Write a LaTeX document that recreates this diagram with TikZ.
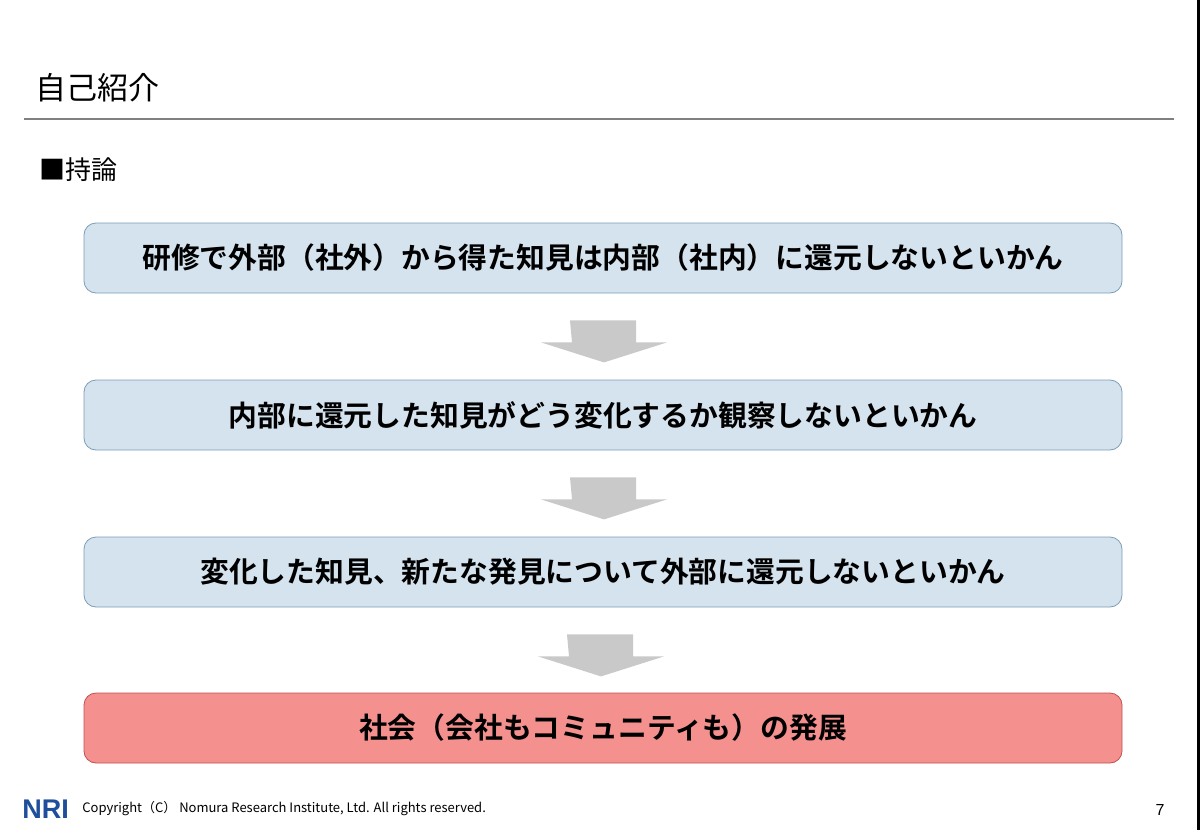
\documentclass[tikz,border=0pt]{standalone}
\usepackage{fontspec}
\setmainfont{Liberation Sans}
\newfontfamily\jp{Noto Sans CJK JP}
\newfontfamily\jpb{Noto Sans CJK JP Bold}
\usetikzlibrary{positioning,calc}
\definecolor{boxblue}{HTML}{D4E3EE}
\definecolor{lineblue}{HTML}{7C9DB8}
\definecolor{boxred}{HTML}{F4918F}
\definecolor{linered}{HTML}{C0504D}
\definecolor{arrowgray}{HTML}{C9C9C9}
\definecolor{nriblue}{HTML}{1F4E9C}
\tikzset{
  stepbox/.style={draw=lineblue, fill=boxblue, rounded corners=6pt, minimum width=519pt, minimum height=35pt, font=\jpb\fontsize{14.4}{16}\selectfont, inner sep=0pt},
  goalbox/.style={stepbox, draw=linered, fill=boxred},
}
\newcommand{\grayarrow}[1]{\fill[arrowgray] ([xshift=-16.5pt,yshift=-13.5pt]#1) -- ++(33pt,0) -- ++(0,-11pt) -- ++(15.5pt,0) -- ++(-31.5pt,-10pt) -- ++(-31.5pt,10pt) -- ++(15.5pt,0) -- cycle;}
\begin{document}
\begin{tikzpicture}[x=0.5pt,y=-0.5pt]
\useasboundingbox (0,0) rectangle (1200,830);
\draw[line width=1.5pt] (1198,0) -- (1198,830);
\node[anchor=west, font=\jp\fontsize{15.5}{17}\selectfont] (title) at (28,88) {自己紹介};
\draw[gray, line width=0.6pt] (24,119) -- (1174,119);
\node[anchor=west, font=\jp\fontsize{13}{15}\selectfont] (thesis) at (32,170) {■持論};
% steps
\node[stepbox] (s1) at (603,258) {研修で外部（社外）から得た知見は内部（社内）に還元しないといかん};
\node[stepbox] (s2) at (603,415) {内部に還元した知見がどう変化するか観察しないといかん};
\node[stepbox] (s3) at (603,572) {変化した知見、新たな発見について外部に還元しないといかん};
\node[goalbox] (s4) at (603,728) {社会（会社もコミュニティも）の発展};
\grayarrow{s1.south} \grayarrow{s2.south} \grayarrow{$(s3.south)+(-3,0)$}
% footer
\node[anchor=west, text=nriblue, font=\bfseries\fontsize{13.5}{13.5}\selectfont, inner sep=0pt] (logo) at (22,809) {NRI};
\node[anchor=west, font=\jp\fontsize{6.5}{7}\selectfont, right=3pt of logo] (copy) {Copyright（C） Nomura Research Institute, Ltd. All rights reserved.};
\node[font=\fontsize{8}{9}\selectfont] (page) at (1160,810) {7};
\end{tikzpicture}
\end{document}
